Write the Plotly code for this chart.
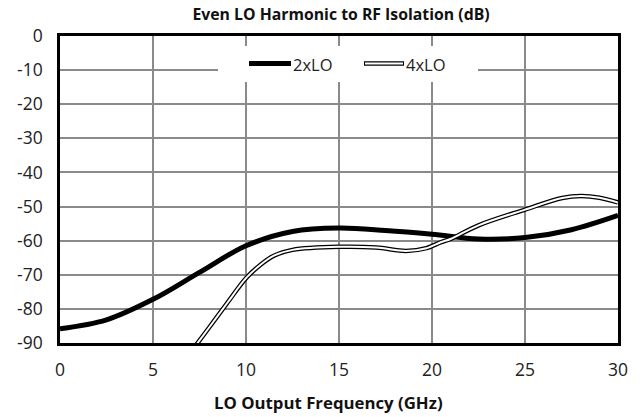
import plotly.graph_objects as go

title_text = "Even LO Harmonic to RF Isolation (dB)"
x_title = "LO Output Frequency (GHz)"

x_2lo = [0, 2.5, 5, 7.5, 10, 12.5, 15, 17.5, 20, 22.5, 25, 27.5, 30]
y_2lo = [-85.8, -83.2, -77.2, -69.3, -61.5, -57.3, -56.3, -57.0, -58.1, -59.5, -59.1, -56.8, -52.6]

x_4lo = [7, 8, 9, 10, 10.75, 11.5, 12.5, 15, 17, 18.6, 19.7, 20.5, 21, 22.5, 25, 27, 28, 29, 30]
y_4lo = [-92.9, -85.6, -78.2, -71.0, -67.2, -64.4, -62.7, -61.8, -62.0, -63.0, -62.2, -60.4, -59.5, -55.5, -50.9, -47.5, -46.9, -47.4, -48.8]

series_names = ["2xLO", "4xLO"]

x_tick_vals = [0, 5, 10, 15, 20, 25, 30]
x_tick_text = ["0", "5", "10", "15", "20", "25", "30"]
y_tick_vals = [0, -10, -20, -30, -40, -50, -60, -70, -80, -90]
y_tick_text = ["0", "-10", "-20", "-30", "-40", "-50", "-60", "-70", "-80", "-90"]

fig = go.Figure()
fig.add_trace(go.Scatter(x=x_2lo, y=y_2lo, mode="lines", name=series_names[0],
                         line=dict(color="black", width=5, shape="spline", smoothing=1.0),
                         showlegend=False))
fig.add_trace(go.Scatter(x=x_4lo, y=y_4lo, mode="lines", name=series_names[1],
                         line=dict(color="black", width=4.5, shape="spline", smoothing=1.0),
                         showlegend=False))
fig.add_trace(go.Scatter(x=x_4lo, y=y_4lo, mode="lines", name=series_names[1],
                         line=dict(color="white", width=2, shape="spline", smoothing=1.0),
                         showlegend=False))

font_family = "Open Sans"

# manual legend (white box + line samples + labels) in paper coordinates
px0, px1, py0, py1 = 60, 618, 36, 343
def xp(p):
    return (p - px0) / (px1 - px0)
def yp(p):
    return (py1 - p) / (py1 - py0)

shapes = [
    dict(type="rect", xref="paper", yref="paper", x0=xp(218), x1=xp(478), y0=yp(82), y1=yp(46),
         fillcolor="white", line=dict(width=0), layer="above"),
    dict(type="line", xref="paper", yref="paper", x0=xp(249), x1=xp(291), y0=yp(63.5), y1=yp(63.5),
         line=dict(color="black", width=5), layer="above"),
    dict(type="line", xref="paper", yref="paper", x0=xp(364), x1=xp(404), y0=yp(63.5), y1=yp(63.5),
         line=dict(color="black", width=4.5), layer="above"),
    dict(type="line", xref="paper", yref="paper", x0=xp(365), x1=xp(403), y0=yp(63.5), y1=yp(63.5),
         line=dict(color="white", width=2), layer="above"),
]
annotations = [
    dict(text=series_names[0], xref="paper", yref="paper", x=xp(291), y=yp(64), xanchor="left",
         yanchor="middle", showarrow=False, font=dict(family=font_family, size=16.5, color="#222")),
    dict(text=series_names[1], xref="paper", yref="paper", x=xp(404), y=yp(64), xanchor="left",
         yanchor="middle", showarrow=False, font=dict(family=font_family, size=16.5, color="#222")),
    dict(text="<b>" + x_title + "</b>", xref="paper", yref="paper", x=xp(328), y=yp(402),
         xanchor="center", yanchor="middle", showarrow=False,
         font=dict(family=font_family, size=16.8, color="#111")),
]

fig.update_layout(
    width=640, height=417,
    margin=dict(l=60, r=22, t=36, b=74),
    paper_bgcolor="white", plot_bgcolor="white",
    title=dict(text="<b>" + title_text + "</b>", x=xp(341), xref="paper", y=0.965, yanchor="middle",
               font=dict(family=font_family, size=15.8, color="#111")),
    shapes=shapes, annotations=annotations,
    showlegend=False,
)
fig.update_xaxes(range=[0, 30], tickmode="array", tickvals=x_tick_vals, ticktext=x_tick_text,
                 showgrid=True, gridcolor="#8a8a8a", gridwidth=1.5,
                 showline=True, linecolor="black", linewidth=2.5, mirror=True, zeroline=False,
                 ticks="", ticklabelstandoff=9,
                 tickfont=dict(family=font_family, size=17.5, color="#222"))
fig.update_yaxes(range=[-90, 0], tickmode="array", tickvals=y_tick_vals, ticktext=y_tick_text,
                 showgrid=True, gridcolor="#8a8a8a", gridwidth=1.5,
                 showline=True, linecolor="black", linewidth=2.5, mirror=True, zeroline=False,
                 ticks="", ticklabelstandoff=11,
                 tickfont=dict(family=font_family, size=17.5, color="#222"))

fig.write_html("out.html", config={"displayModeBar": False},
               post_script="document.body.style.margin='0';document.body.style.overflow='hidden';")
